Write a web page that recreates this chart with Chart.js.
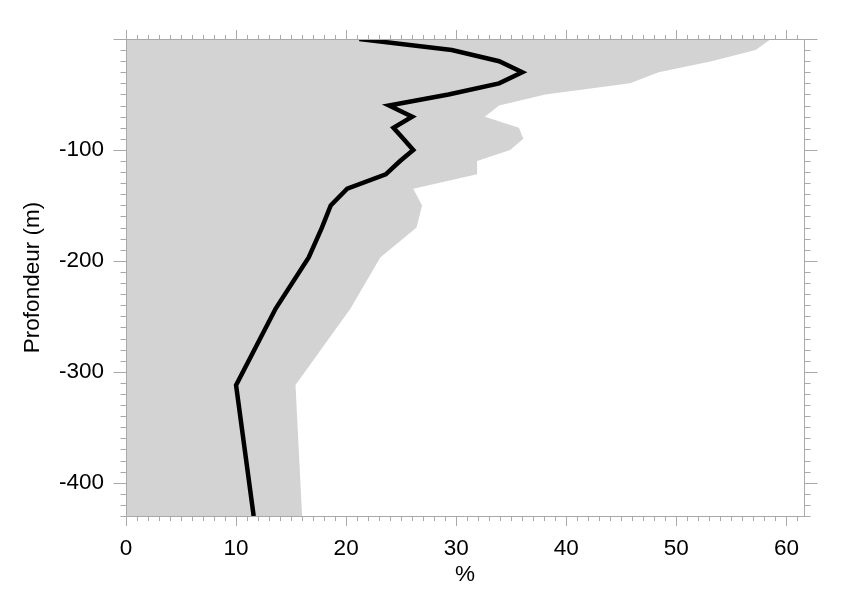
<!DOCTYPE html>
<html>
<head>
<meta charset="utf-8">
<script src="https://cdn.jsdelivr.net/npm/chart.js@4"></script>
<style>
  html, body { margin: 0; padding: 0; background: #fff; }
  #wrap { width: 841px; height: 595px; }
</style>
</head>
<body>
<div id="wrap"><canvas id="chart" width="841" height="595"></canvas></div>
<script>
// depth levels (m) and the two profiles
const depths = [0, -10, -20, -30, -40, -50, -60, -70, -80, -90, -100, -110, -122, -135, -150, -170, -197, -243, -312, -430];
const meanPct = [21.2, 29.6, 33.9, 36.0, 33.9, 29.3, 23.9, 26.0, 24.3, 25.2, 26.1, 24.9, 23.6, 20.1, 18.6, 17.8, 16.6, 13.6, 10.0, 11.6];
const maxPct = [58.6, 57.2, 53.2, 48.4, 45.8, 38.1, 33.9, 32.6, 35.7, 36.1, 34.9, 31.9, 31.9, 26.1, 26.9, 26.4, 23.1, 20.4, 15.4, 16.0];

const xTicks = [0, 10, 20, 30, 40, 50, 60];
const yTicks = [-100, -200, -300, -400];
const xMin = 0, xMax = 61.6;
const yMin = -430, yMax = 0;

const axisGray = '#a9a9a9';
const fontFamily = '"Liberation Sans", Arial, Helvetica, sans-serif';

// IDL-style frame with major and minor ticks on all four sides
const frameTicks = {
  id: 'frameTicks',
  afterDraw(chart) {
    const { ctx, chartArea: a, scales: { x, y } } = chart;
    const L = Math.round(a.left) + 0.5, R = Math.round(a.right) + 0.5;
    const T = Math.round(a.top) + 0.5, B = Math.round(a.bottom) + 0.5;
    ctx.save();
    ctx.strokeStyle = axisGray;
    ctx.lineWidth = 1;
    ctx.beginPath();
    ctx.rect(L, T, R - L, B - T);
    for (let v = xMin; v <= xMax; v += 1) {
      const px = Math.round(x.getPixelForValue(v)) + 0.5;
      const len = v % 10 === 0 ? 9.5 : 4.5;
      ctx.moveTo(px, B); ctx.lineTo(px, B + len);
      ctx.moveTo(px, T); ctx.lineTo(px, T - len);
    }
    for (let v = yMax; v >= yMin; v -= 10) {
      const py = Math.round(y.getPixelForValue(v)) + 0.5;
      const len = v % 100 === 0 ? 13 : 6;
      ctx.moveTo(L, py); ctx.lineTo(L - len, py);
      ctx.moveTo(R, py); ctx.lineTo(R + len, py);
    }
    ctx.stroke();
    ctx.restore();
  }
};

new Chart(document.getElementById('chart'), {
  type: 'line',
  data: {
    datasets: [
      {
        label: 'moyenne',
        data: depths.map((d, i) => ({ x: meanPct[i], y: d })),
        borderColor: '#000',
        borderWidth: 4.5,
        borderJoinStyle: 'miter',
        pointRadius: 0,
        fill: false,
        tension: 0,
        order: 0
      },
      {
        label: 'max',
        data: depths.map((d, i) => ({ x: maxPct[i], y: d })),
        borderWidth: 0,
        borderColor: 'rgba(0,0,0,0)',
        backgroundColor: '#d3d3d3',
        pointRadius: 0,
        fill: 'origin',
        tension: 0,
        order: 1
      }
    ]
  },
  options: {
    indexAxis: 'y',
    responsive: false,
    animation: false,
    events: [],
    layout: { padding: { top: 39, right: 37, left: 0, bottom: 0 } },
    plugins: {
      legend: { display: false },
      tooltip: { enabled: false }
    },
    scales: {
      x: {
        type: 'linear',
        position: 'bottom',
        min: xMin,
        max: xMax,
        grid: { display: false, drawTicks: false },
        border: { display: false },
        afterBuildTicks: s => { s.ticks = xTicks.map(v => ({ value: v })); },
        afterFit: s => { s.height = 79; },
        ticks: {
          color: '#000',
          padding: 19,
          maxRotation: 0,
          font: { family: fontFamily, size: 22.5 },
          callback: v => String(v)
        },
        title: {
          display: true,
          text: '%',
          color: '#000',
          padding: { top: 0, bottom: 7 },
          font: { family: fontFamily, size: 22.5 }
        }
      },
      y: {
        type: 'linear',
        position: 'left',
        min: yMin,
        max: yMax,
        grid: { display: false, drawTicks: false },
        border: { display: false },
        afterBuildTicks: s => { s.ticks = yTicks.map(v => ({ value: v })); },
        afterFit: s => { s.width = 126; },
        ticks: {
          color: '#000',
          padding: 22,
          font: { family: fontFamily, size: 22.5 },
          callback: v => String(v)
        },
        title: {
          display: true,
          text: 'Profondeur (m)',
          color: '#000',
          padding: { top: 19, bottom: 0 },
          font: { family: fontFamily, size: 22.5 }
        }
      }
    }
  },
  plugins: [frameTicks]
});
</script>
</body>
</html>
